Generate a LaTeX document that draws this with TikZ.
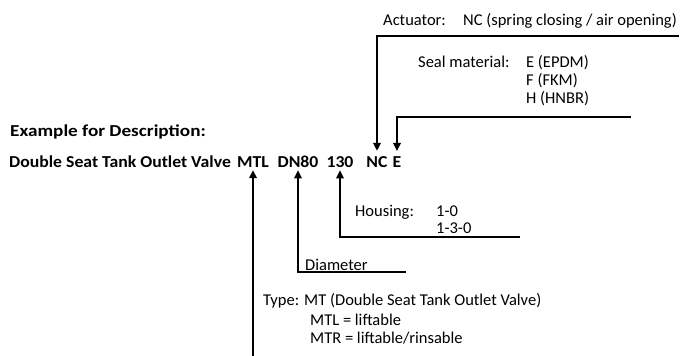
\documentclass[tikz,border=0pt]{standalone}
\usepackage{fontspec}
\setmainfont{Carlito}
\newfontfamily\boldstretch[FakeStretch=1.06]{Carlito}
\newfontfamily\boldwide[FakeStretch=1.15]{Carlito}
\usetikzlibrary{arrows.meta}
\begin{document}
\begin{tikzpicture}[x=1pt,y=-1pt,
  txt/.style={anchor=base west,inner sep=0pt,font=\fontsize{16.5}{19}\selectfont},
  btxt/.style={anchor=base west,inner sep=0pt,font=\boldstretch\fontsize{16.7}{19}\selectfont\bfseries},
  tok/.style={anchor=base,inner sep=0pt,font=\boldstretch\fontsize{16.7}{19}\selectfont\bfseries},
  conn/.style={line width=1.8pt,-{Triangle[width=7.5pt,length=8pt]}}]
\useasboundingbox (0,0) rectangle (681,356);
% header lines
\node[btxt,font=\boldwide\fontsize{16.7}{19}\selectfont\bfseries] (ex) at (10,136) {Example for Description:};
\node[btxt] (main) at (9,167) {Double Seat Tank Outlet Valve};
\node[tok] (mtl) at (253,167) {MTL};
\node[tok] (dn) at (298,167) {DN80};
\node[tok] (h130) at (340,167) {130};
\node[tok] (nc) at (377,167) {NC};
\node[tok] (e) at (397,167) {E};
% actuator
\node[txt] (act) at (383,25) {Actuator:};
\node[txt] (actv) at (463,25) {NC (spring closing / air opening)};
\coordinate (actR) at (679,36);
\draw[conn,shorten >=5pt] (actR) -| (nc.north);
% seal
\node[txt] (seal) at (418,67) {Seal material:};
\node[txt] (s1) at (526,67) {E (EPDM)};
\node[txt] (s2) at (526,85) {F (FKM)};
\node[txt] (s3) at (526,103) {H (HNBR)};
\coordinate (sealR) at (631,117);
\draw[conn,shorten >=5pt] (sealR) -| (e.north);
% housing
\node[txt] (hous) at (355,216) {Housing:};
\node[txt] (h1) at (436,216) {1-0};
\node[txt] (h2) at (436,233) {1-3-0};
\coordinate (housR) at (520,237);
\draw[conn,shorten >=3pt] (housR) -| (h130.south);
% diameter
\node[txt] (dia) at (305,270) {Diameter};
\coordinate (diaR) at (406,272);
\draw[conn,shorten >=3pt] (diaR) -| (dn.south);
% type
\node[txt] (t1) at (263,305) {Type: MT (Double Seat Tank Outlet Valve)};
\node[txt] (t2) at (310,325) {MTL = liftable};
\node[txt] (t3) at (310,343) {MTR = liftable/rinsable};
\coordinate (typeB) at (253,357);
\draw[conn,shorten >=3pt] (typeB) -- (mtl.south);
\end{tikzpicture}
\end{document}
